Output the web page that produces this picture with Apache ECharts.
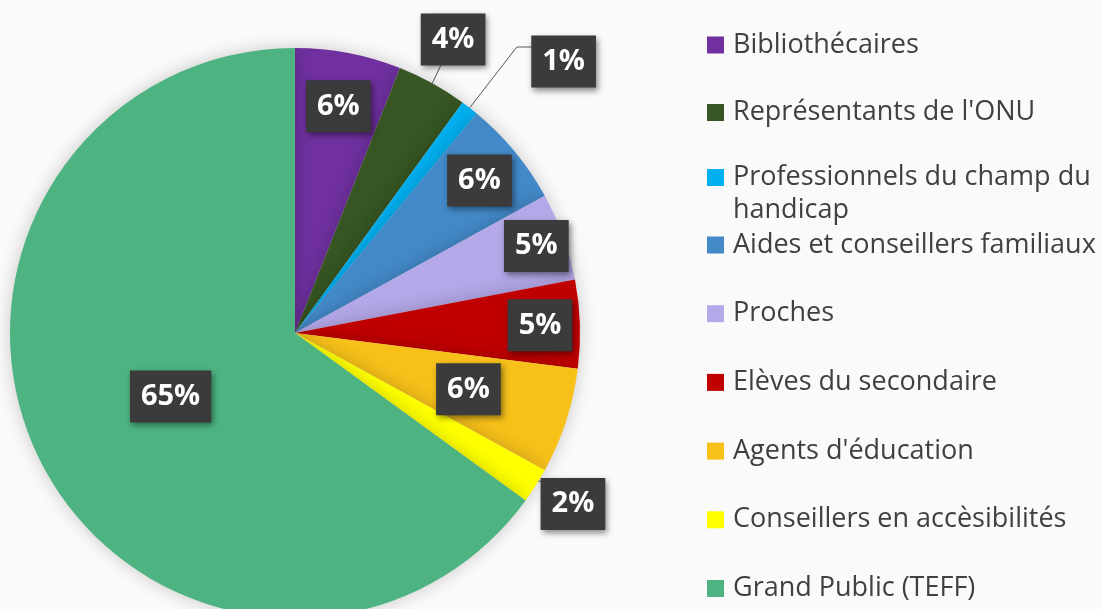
<!DOCTYPE html>
<html>
<head>
<meta charset="utf-8">
<script src="https://cdn.jsdelivr.net/npm/echarts@6/dist/echarts.min.js"></script>
<style>
  html, body { margin: 0; padding: 0; background: #fafafa; }
  #chart { width: 1103px; height: 609px; }
</style>
</head>
<body>
<div id="chart"></div>
<script>
const categories = [
  'Bibliothécaires',
  "Représentants de l'ONU",
  'Professionnels du champ du handicap',
  'Aides et conseillers familiaux',
  'Proches',
  'Elèves du secondaire',
  "Agents d'éducation",
  'Conseillers en accèsibilités',
  'Grand Public (TEFF)'
];
const shares = [6, 4, 1, 6, 5, 5, 6, 2, 65];
const colors = ['#7030a0', '#375623', '#00b0f0', '#4389c8', '#b4a8e8', '#c00000', '#f7c11a', '#ffff00', '#4db380'];

// where each percentage box sits: r = share of the radius, angle only for boxes pulled outside
const labelPlacement = [
  { r: 0.81 },
  { r: 1.17, angle: 28.3, line: 'direct' },
  { r: 1.34, angle: 44.7, line: 'elbow', elbow: 1.27 },
  { r: 0.84 },
  { r: 0.9 },
  { r: 0.86 },
  { r: 0.64 },
  { r: 1.145, angle: 121.6, line: 'flat' },
  { r: 0.49 }
];

const CX = 295, CY = 333, R = 285;

const total = shares.reduce((a, b) => a + b, 0);
const midAngles = [];
let acc = 0;
shares.forEach((v) => {
  midAngles.push((acc + v / 2) / total * 360);
  acc += v;
});

function polar(angle, f) {
  const a = angle * Math.PI / 180;
  return [CX + Math.sin(a) * R * f, CY - Math.cos(a) * R * f];
}

function placeLabel(params) {
  const i = params.dataIndex;
  const p = labelPlacement[i];
  const pos = polar(p.angle != null ? p.angle : midAngles[i], p.r);
  const out = { x: pos[0], y: pos[1], align: 'center', verticalAlign: 'middle' };
  if (p.line === 'direct') {
    out.labelLinePoints = [polar(midAngles[i], 1), pos];
  } else if (p.line === 'elbow') {
    const e = polar(midAngles[i], p.elbow);
    out.labelLinePoints = [polar(midAngles[i], 1), e, [pos[0], e[1]]];
  } else if (p.line === 'flat') {
    const s = polar(midAngles[i], 0.97);
    out.labelLinePoints = [s, [pos[0], s[1]]];
  }
  return out;
}

// legend split in three so the wrapped entry keeps its square on the first line
const legendBase = {
  orient: 'vertical',
  left: 707,
  padding: 0,
  itemWidth: 25,
  itemHeight: 17,
  itemGap: 29.5,
  icon: 'path://M0,0H10V10H0Z',
  selectedMode: false,
  textStyle: { fontSize: 27, color: '#404040', fontFamily: 'Open Sans', lineHeight: 38 },
  formatter: (name) => name === categories[2] ? '\nProfessionnels du champ du\nhandicap' : name
};

const chart = echarts.init(document.getElementById('chart'));

chart.setOption({
  backgroundColor: '#fafafa',
  animation: false,
  legend: [
    Object.assign({}, legendBase, { top: 26, data: categories.slice(0, 2) }),
    Object.assign({}, legendBase, {
      top: 128,
      textStyle: Object.assign({}, legendBase.textStyle, { lineHeight: 33 }),
      data: categories.slice(2, 3)
    }),
    Object.assign({}, legendBase, { top: 226, itemGap: 30.7, data: categories.slice(3) })
  ],
  series: [
    {
      type: 'pie',
      center: [CX, CY],
      radius: R,
      startAngle: 90,
      clockwise: true,
      avoidLabelOverlap: false,
      emphasis: { disabled: true },
      itemStyle: { shadowBlur: 18, shadowColor: 'rgba(0,0,0,0.2)' },
      label: {
        show: true,
        position: 'outside',
        formatter: '{c}%',
        color: '#ffffff',
        fontFamily: 'Open Sans',
        fontWeight: 'bold',
        fontSize: 29,
        lineHeight: 32,
        backgroundColor: '#3b3b3b',
        padding: [10, 11],
        shadowBlur: 6,
        shadowColor: 'rgba(0,0,0,0.45)',
        shadowOffsetX: 2,
        shadowOffsetY: 3
      },
      labelLine: { show: false, lineStyle: { color: '#595959', width: 1 } },
      labelLayout: placeLabel,
      data: categories.map((name, i) => ({
        name,
        value: shares[i],
        itemStyle: { color: colors[i] },
        labelLine: { show: !!labelPlacement[i].line }
      }))
    }
  ]
});
</script>
</body>
</html>
